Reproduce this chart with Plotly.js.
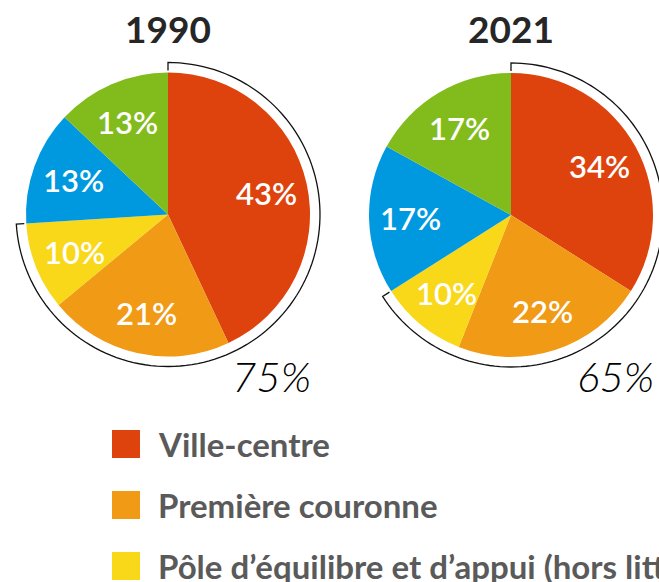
<!DOCTYPE html>
<html>
<head>
<meta charset="utf-8">
<script src="https://cdn.plot.ly/plotly-3.0.1.min.js"></script>
<style>
  html, body { margin: 0; padding: 0; background: #ffffff; }
  #chart { width: 659px; height: 582px; }
</style>
</head>
<body>
<div id="chart"></div>
<script>
// ---- data ----
const years = ['1990', '2021'];
const categories = [
  'Ville-centre',
  'Première couronne',
  'Pôle d’équilibre et d’appui (hors littoral)',
  'Pôle de proximité',
  'Autres communes'
];
const values1990 = [43, 21, 10, 13, 13];
const values2021 = [34, 22, 10, 17, 17];
const groupedShareLabels = ['75%', '65%'];   // share of the first three categories
const groupedCount = 3;                      // categories covered by the bracket arc
const colors = ['#DE430E', '#F09A16', '#F9D81A', '#0099E0', '#82BC1C'];

// ---- layout (pixels) ----
const W = 659, H = 582;
const pies = [
  { cx: 168, cy: 214.5, r: 142, values: values1990 },
  { cx: 511, cy: 215,   r: 142, values: values2021 }
];
const px = x => x / W;
const py = y => 1 - y / H;

const data = [];
const shapes = [];
const annotations = [];

pies.forEach((p, i) => {
  data.push({
    type: 'pie',
    values: p.values,
    labels: categories,
    sort: false,
    direction: 'clockwise',
    rotation: 0,
    textinfo: 'none',
    hoverinfo: 'label+percent',
    showlegend: false,
    marker: { colors: colors, line: { width: 0 } },
    domain: { x: [px(p.cx - p.r), px(p.cx + p.r)], y: [py(p.cy + p.r), py(p.cy - p.r)] }
  });

  const total = p.values.reduce((a, b) => a + b, 0);
  let cum = 0;
  p.values.forEach((v, k) => {
    const mid = (cum + v / 2) / total * 2 * Math.PI;
    cum += v;
    const rl = 0.71 * p.r;
    annotations.push({
      xref: 'paper', yref: 'paper',
      x: px(p.cx + rl * Math.sin(mid)), y: py(p.cy - rl * Math.cos(mid)),
      xanchor: 'center', yanchor: 'middle',
      text: Math.round(v / total * 100) + '%',
      showarrow: false,
      font: { family: 'Lato, sans-serif', size: 31, color: '#ffffff', weight: 600 }
    });
  });

  // bracket arc around the first groupedCount slices
  const grouped = p.values.slice(0, groupedCount).reduce((a, b) => a + b, 0);
  const endA = grouped / total * 2 * Math.PI;
  const R = p.r + 10, Rin = p.r + 2;
  let path = 'M' + px(p.cx) + ',' + py(p.cy - Rin);
  const steps = 120;
  for (let s = 0; s <= steps; s++) {
    const a = endA * s / steps;
    path += ' L' + px(p.cx + R * Math.sin(a)) + ',' + py(p.cy - R * Math.cos(a));
  }
  path += ' L' + px(p.cx + Rin * Math.sin(endA)) + ',' + py(p.cy - Rin * Math.cos(endA));
  shapes.push({
    type: 'path', xref: 'paper', yref: 'paper', path: path,
    line: { color: '#111111', width: 1.3 }, fillcolor: 'rgba(0,0,0,0)', layer: 'above'
  });

  annotations.push({
    xref: 'paper', yref: 'paper',
    x: px(p.cx + p.r + 3), y: py(p.cy + p.r + 19),
    xanchor: 'right', yanchor: 'middle',
    text: '<i>' + groupedShareLabels[i] + '</i>',
    showarrow: false,
    font: { family: 'Lato, sans-serif', size: 42, color: '#000000', weight: 300 }
  });

  annotations.push({
    xref: 'paper', yref: 'paper',
    x: px(p.cx), y: py(28),
    xanchor: 'center', yanchor: 'middle',
    text: '<b>' + years[i] + '</b>',
    showarrow: false,
    font: { family: 'Lato, sans-serif', size: 37, color: '#262626' }
  });
});

// ---- custom legend ----
const legX = 112, legSize = 28, legY0 = 444, legStep = 61;
categories.forEach((c, k) => {
  const yc = legY0 + k * legStep;
  if (yc - legSize / 2 > H) return;
  shapes.push({
    type: 'rect', xref: 'paper', yref: 'paper',
    x0: px(legX), x1: px(legX + legSize),
    y0: py(yc + legSize / 2), y1: py(yc - legSize / 2),
    fillcolor: colors[k], line: { width: 0 }, layer: 'above'
  });
  annotations.push({
    xref: 'paper', yref: 'paper',
    x: px(legX + legSize + 16), y: py(yc),
    xanchor: 'left', yanchor: 'middle',
    text: '<b>' + c + '</b>',
    showarrow: false,
    font: { family: 'Lato, sans-serif', size: 33, color: '#5a5a5a' }
  });
});

const layout = {
  width: W, height: H,
  margin: { l: 0, r: 0, t: 0, b: 0 },
  paper_bgcolor: '#ffffff',
  showlegend: false,
  shapes: shapes,
  annotations: annotations
};

Plotly.newPlot('chart', data, layout, { displayModeBar: false, staticPlot: true });
</script>
</body>
</html>
